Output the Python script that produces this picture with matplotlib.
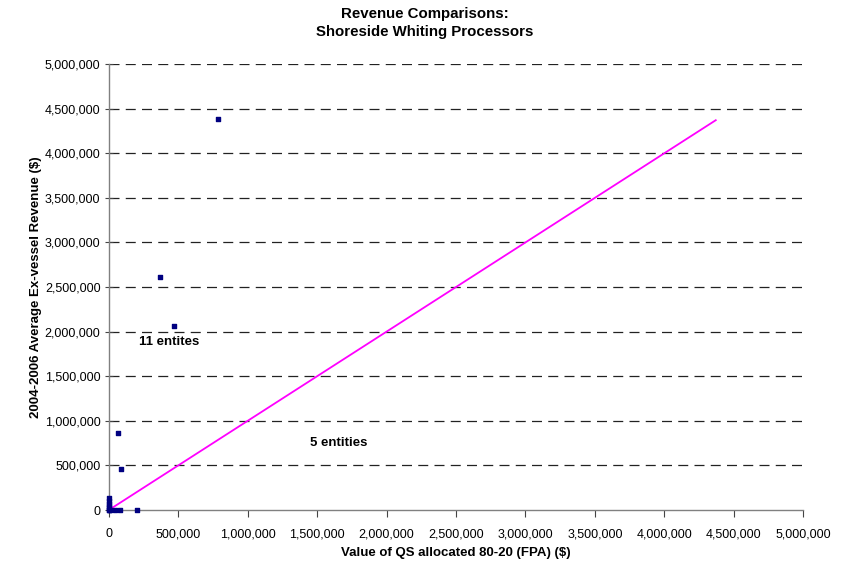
import matplotlib
matplotlib.use("Agg")
import matplotlib.pyplot as plt
from matplotlib.ticker import FuncFormatter, MultipleLocator

plt.rcParams['font.family'] = ['Liberation Sans', 'DejaVu Sans']

# Data: value of QS allocated (x) vs average ex-vessel revenue (y)
qs_value = [785000, 367000, 468000, 65000, 86000, 204000, 84000, 43000,
            0, 0, 2000, 0, 5000, 3000, 1000, 10000]
revenue = [4380000, 2610000, 2060000, 860000, 460000, 0, 0, 0,
           130000, 100000, 70000, 40000, 20000, 0, 0, 0]
line_x = [0, 4370000]
line_y = [0, 4370000]

fig = plt.figure(figsize=(8.5, 5.64), dpi=100)
ax = fig.add_axes([0.128, 0.0957, 0.817, 0.7908])

for v in range(500000, 5000001, 500000):
    ax.axhline(v, color='#222222', lw=0.9, dashes=(8, 5), zorder=1)

ax.plot(line_x, line_y, color='#FF00FF', lw=1.3, zorder=2)
ax.scatter(qs_value, revenue, marker='s', s=12, color='#000080', zorder=3, clip_on=False)

ax.set_xlim(0, 5000000)
ax.set_ylim(0, 5000000)
ax.xaxis.set_major_locator(MultipleLocator(500000))
ax.yaxis.set_major_locator(MultipleLocator(500000))
fmt = FuncFormatter(lambda v, p: f"{int(round(v)):,}")
ax.xaxis.set_major_formatter(fmt)
ax.yaxis.set_major_formatter(fmt)

for s in ['top', 'right']:
    ax.spines[s].set_visible(False)
for s in ['left', 'bottom']:
    ax.spines[s].set_color('#808080')
    ax.spines[s].set_linewidth(1.0)

ax.tick_params(axis='x', direction='out', length=5, color='#444444', labelsize=9, pad=8)
ax.tick_params(axis='y', direction='inout', length=6, color='#444444', labelsize=9, pad=3)

ax.set_xlabel('Value of QS allocated 80-20 (FPA) ($)', fontsize=9.5, fontweight='bold', labelpad=5)
ax.set_ylabel('2004-2006 Average Ex-vessel Revenue ($)', fontsize=9.5, fontweight='bold', labelpad=2)

fig.text(0.5, 1 - 14 / 564, 'Revenue Comparisons:', ha='center', va='center', fontsize=10.8, fontweight='bold')
fig.text(0.5, 1 - 32 / 564, 'Shoreside Whiting Processors', ha='center', va='center', fontsize=10.8, fontweight='bold')

ax.text(215000, 1880000, '11 entites', fontsize=9.5, fontweight='bold', va='center', ha='left')
ax.text(1450000, 750000, '5 entities', fontsize=9.5, fontweight='bold', va='center', ha='left')

fig.savefig('out.png', dpi=100)
